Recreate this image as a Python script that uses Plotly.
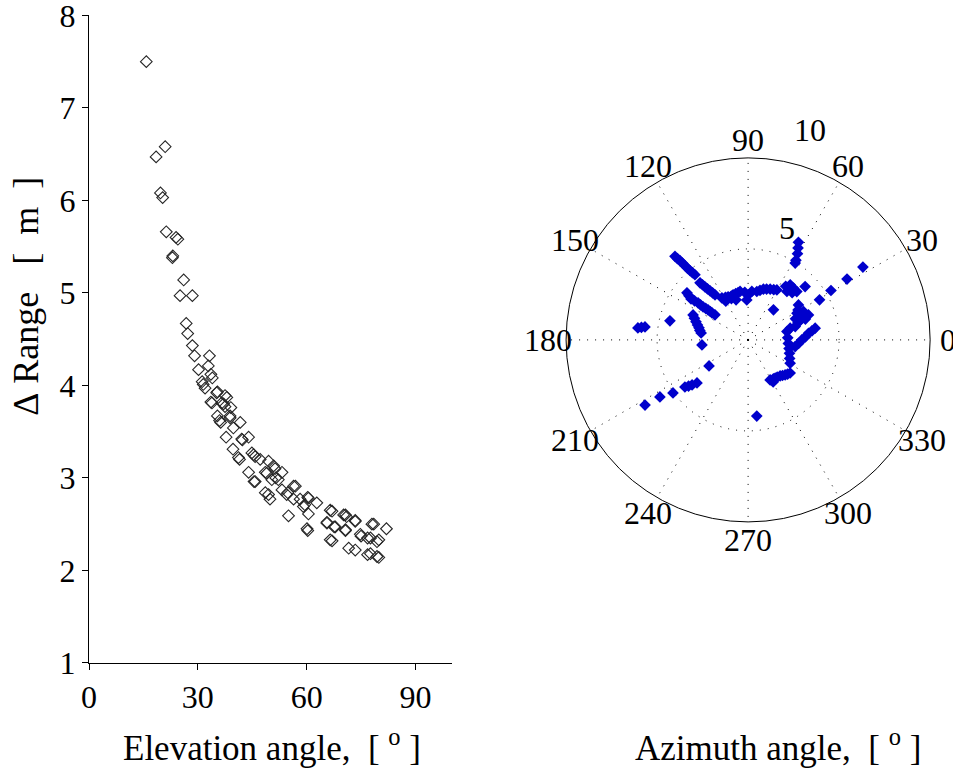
import math
import plotly.graph_objects as go

# ---- Left panel: Delta range vs elevation angle ----
elev = [15.8, 18.5, 21.0, 19.7, 20.3, 21.3, 24.0, 24.5, 23.1, 23.0, 26.1,
        25.1, 28.5, 26.8, 27.2, 28.5, 29.1, 33.2, 30.2, 32.9, 33.6, 34.0,
        31.5, 31.2, 32.0, 35.4, 35.2, 38.0, 37.5, 33.6, 33.9, 37.1, 36.6, 37.5,
        39.1, 35.4, 38.9, 38.9, 36.3, 36.0, 41.7, 39.8, 37.8, 42.1, 42.3, 44.0,
        39.7, 41.5, 41.2, 44.9, 45.4, 45.8, 47.2, 49.5, 44.0, 49.0, 48.6,
        50.9, 51.3, 53.2, 45.8, 45.5, 50.4, 52.2, 51.5, 48.6, 49.5, 49.9,
        53.2, 54.5, 54.8, 56.9, 56.4, 60.5, 60.3, 58.2, 56.4, 59.1, 59.5, 62.8,
        60.5, 55.0, 66.5, 67.0, 70.7, 70.2, 71.0, 65.6, 65.6, 67.9, 67.6,
        73.4, 73.4, 60.1, 60.3, 70.7, 70.7, 74.8, 75.0, 78.5, 78.0, 82.0,
        66.5, 67.0, 71.6, 73.4, 76.8, 77.6, 79.4, 79.9, 76.8, 77.6, 79.4, 79.9]
drange = [7.50, 6.47, 6.58, 6.08, 6.03, 5.66, 5.60, 5.58, 5.40, 5.38, 5.14,
          4.97, 4.97, 4.67, 4.56, 4.43, 4.32, 4.32, 4.17, 4.21, 4.12, 4.08,
          4.01, 4.04, 3.97, 3.93, 3.92, 3.87, 3.89, 3.82, 3.81, 3.80, 3.81, 3.77,
          3.76, 3.67, 3.67, 3.65, 3.60, 3.62, 3.60, 3.54, 3.44, 3.42, 3.41, 3.44,
          3.31, 3.20, 3.22, 3.27, 3.25, 3.23, 3.20, 3.18, 3.06, 3.05, 3.06,
          3.13, 3.10, 3.06, 2.96, 2.96, 2.98, 2.98, 3.00, 2.84, 2.82, 2.77,
          2.87, 2.82, 2.84, 2.91, 2.91, 2.78, 2.79, 2.77, 2.77, 2.69, 2.71, 2.73,
          2.61, 2.59, 2.65, 2.64, 2.60, 2.60, 2.58, 2.52, 2.51, 2.47, 2.47,
          2.54, 2.53, 2.45, 2.43, 2.44, 2.43, 2.39, 2.37, 2.50, 2.50, 2.45,
          2.33, 2.32, 2.24, 2.22, 2.35, 2.35, 2.31, 2.33, 2.17, 2.18, 2.15, 2.14]

x_ticks = [0, 30, 60, 90]
y_ticks = [1, 2, 3, 4, 5, 6, 7, 8]

# ---- Right panel: polar plot (azimuth, value) ----
az = [131.2, 131.0, 130.7, 130.5, 130.4, 130.2, 130.0, 129.6, 129.2,
      130.1, 129.6, 129.1, 128.5, 127.8, 127.0, 126.3,
      122.0, 118.0, 114.9, 111.0, 108.4, 105.0, 102.0, 106.7, 112.0, 120.0, 99.4,
      142.4, 143.3, 144.3, 143.9, 143.5, 143.6, 143.7, 143.4, 143.1, 143.1, 143.1, 142.9,
      155.6, 158.0, 160.9, 163.5, 166.2, 169.0, 171.5, 186.2,
      166.3, 173.8, 172.8, 173.3,
      212.3, 212.9, 215.2, 216.7, 217.8, 218.8, 220.1, 213.7,
      276.5,
      298.8, 300.8, 303.0, 305.4, 308.0, 311.6, 314.0, 316.6, 319.0, 321.8,
      331.0, 336.0, 342.0, 348.0, 355.0, 3.0, 12.1,
      351.9, 356.0, 0.0, 3.0, 6.3, 8.0, 9.9,
      15.6, 15.8, 21.0, 22.5, 27.1, 28.7, 34.8, 25.0, 31.0, 24.0, 19.0, 20.0,
      48.8, 52.6, 44.8, 43.1, 51.3, 47.0, 55.0, 49.8,
      60.1, 63.0, 66.5, 70.0, 73.2, 76.5, 79.8, 85.6, 89.6, 91.9, 94.0,
      62.7, 61.5, 60.2, 58.5, 59.0,
      32.4, 31.6, 30.8, 29.3]
rad = [6.10, 5.92, 5.74, 5.55, 5.35, 5.15, 4.96, 4.80, 4.62,
       4.10, 3.93, 3.76, 3.58, 3.41, 3.24, 3.07,
       2.72, 2.65, 2.61, 2.58, 2.61, 2.63, 2.65, 2.30, 2.45, 2.45, 2.70,
       4.24, 4.05, 3.86, 3.64, 3.42, 3.25, 3.07, 2.90, 2.75, 2.60, 2.48, 2.28,
       3.32, 3.18, 3.03, 2.90, 2.78, 2.70, 2.61, 2.55,
       4.42, 6.09, 5.71, 5.90,
       6.70, 5.77, 5.05, 4.33, 4.14, 3.95, 3.67, 2.58,
       4.21,
       2.51, 2.69, 2.55, 2.57, 2.60, 2.65, 2.72, 2.80, 2.87, 2.94,
       2.64, 2.50, 2.39, 2.30, 2.22, 2.18, 2.18,
       2.61, 2.78, 2.95, 3.15, 3.34, 3.54, 3.74,
       2.40, 2.69, 3.07, 3.59, 3.42, 3.06, 3.37, 3.25, 3.20, 2.85, 2.90, 3.35,
       3.78, 3.81, 3.77, 4.29, 3.41, 3.55, 3.60, 2.16,
       3.17, 3.10, 3.04, 2.97, 2.91, 2.80, 2.70, 2.67, 2.48, 2.20, 2.62,
       6.03, 5.75, 5.46, 4.95, 5.10,
       7.47, 6.38, 5.30, 4.50]

R_MAX = 10
angle_ticks = [0, 30, 60, 90, 120, 150, 180, 210, 240, 270, 300, 330]
radial_labels = ["5", "10"]
radial_label_r = [6.5, 12.05]
radial_label_theta = [70.8, 73.5]

FONT = "Liberation Serif, Times New Roman, serif"
NB = "\u00a0"
W, H = 953, 769
POLAR_DOM_X = [0.594, 0.976]
POLAR_DOM_Y = [0.321, 0.795]
LABEL_R = 11.0  # angle labels sit just outside the r = 10 ring

# geometry of the polar subplot (square domain -> circle fills it)
pcx = (POLAR_DOM_X[0] + POLAR_DOM_X[1]) / 2
pcy = (POLAR_DOM_Y[0] + POLAR_DOM_Y[1]) / 2
prad_px = (POLAR_DOM_X[1] - POLAR_DOM_X[0]) * W / 2


def polar_to_paper(r, theta_deg):
    d = r / R_MAX * prad_px
    t = math.radians(theta_deg)
    return pcx + d * math.cos(t) / W, pcy + d * math.sin(t) / H


fig = go.Figure()

fig.add_trace(go.Scatter(
    x=elev, y=drange, mode="markers",
    marker=dict(symbol="diamond-open", size=9, color="#262626",
                line=dict(width=1.1, color="#262626")),
    xaxis="x", yaxis="y", showlegend=False, cliponaxis=False))

fig.add_trace(go.Scatterpolar(
    r=rad, theta=az, mode="markers",
    marker=dict(symbol="diamond", size=9, color="#0000cc",
                line=dict(width=0)),
    subplot="polar", showlegend=False))

annotations = []
for a in angle_ticks:
    px, py = polar_to_paper(LABEL_R, a)
    annotations.append(dict(text=str(a), x=px, y=py, xref="paper", yref="paper",
                            showarrow=False, xanchor="center", yanchor="middle",
                            font=dict(family=FONT, size=32, color="black")))
for lab, rr, th in zip(radial_labels, radial_label_r, radial_label_theta):
    px, py = polar_to_paper(rr, th)
    annotations.append(dict(text=lab, x=px, y=py, xref="paper", yref="paper",
                            showarrow=False, xanchor="center", yanchor="middle",
                            font=dict(family=FONT, size=32, color="black")))

annotations += [
    dict(text="Elevation angle," + NB * 2 + "[" + NB + "<sup>o</sup>" + NB + "]",
         xref="paper", yref="paper",
         x=0.285, y=0.03, showarrow=False, xanchor="center", yanchor="middle",
         font=dict(family=FONT, size=35)),
    dict(text="Azimuth angle," + NB * 2 + "[" + NB + "<sup>o</sup>" + NB + "]",
         xref="paper", yref="paper",
         x=0.816, y=0.03, showarrow=False, xanchor="center", yanchor="middle",
         font=dict(family=FONT, size=35)),
    dict(text="\u0394" + NB + "Range" + NB * 3 + "[" + NB * 2 + "m" + NB * 2 + "]",
         xref="paper", yref="paper",
         x=0.027, y=0.615, showarrow=False, textangle=-90,
         xanchor="center", yanchor="middle",
         font=dict(family=FONT, size=36)),
]

fig.update_layout(
    width=W, height=H,
    margin=dict(l=0, r=0, t=0, b=0),
    paper_bgcolor="white", plot_bgcolor="white",
    font=dict(family=FONT, size=32, color="black"),
    xaxis=dict(domain=[0.0934, 0.474], range=[0, 100], automargin=False,
               tickvals=x_ticks, ticks="outside", ticklen=6,
               tickcolor="black", showline=True, linecolor="black",
               linewidth=1, showgrid=False, zeroline=False,
               ticklabeloverflow="allow",
               tickfont=dict(family=FONT, size=32)),
    yaxis=dict(domain=[0.138, 0.98], range=[1, 8], automargin=False,
               tickvals=y_ticks, ticks="outside", ticklen=6,
               tickcolor="black", showline=True, linecolor="black",
               linewidth=1, showgrid=False, zeroline=False,
               ticklabeloverflow="allow",
               tickfont=dict(family=FONT, size=32)),
    polar=dict(
        domain=dict(x=POLAR_DOM_X, y=POLAR_DOM_Y),
        bgcolor="white",
        radialaxis=dict(range=[0, R_MAX], tickvals=[5], showticklabels=False,
                        ticks="", showline=False, gridcolor="black",
                        griddash="1px,7px", gridwidth=1.2),
        angularaxis=dict(rotation=0, direction="counterclockwise",
                         tickvals=angle_ticks, ticks="", showticklabels=False,
                         showline=True, linecolor="black", linewidth=1,
                         gridcolor="black", griddash="1px,7px", gridwidth=1.2),
    ),
    annotations=annotations,
)

fig.write_html("out.html", config={"displayModeBar": False},
               post_script="document.body.style.margin='0';")
